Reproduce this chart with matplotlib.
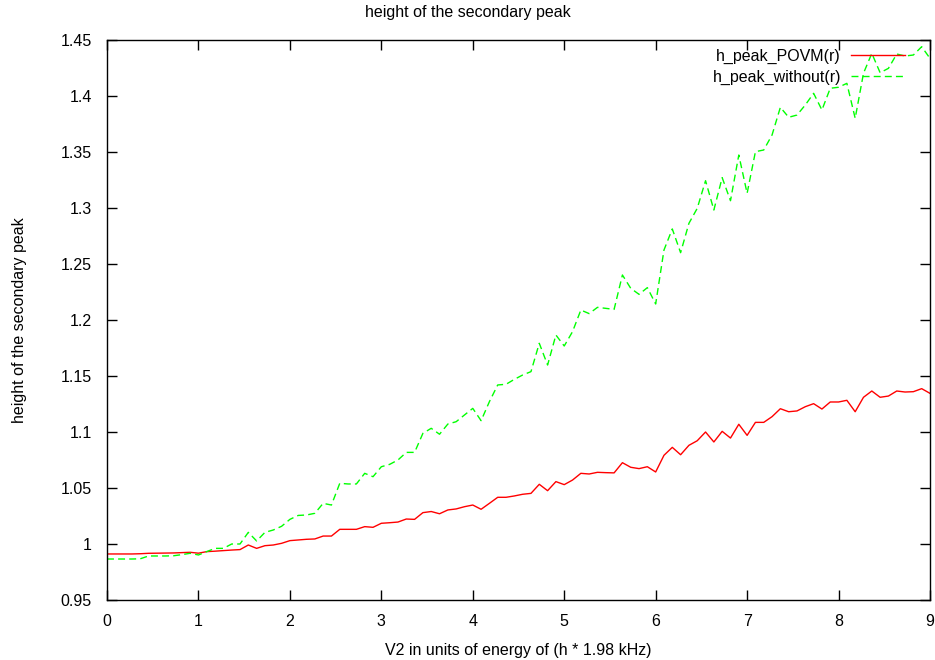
import numpy as np
import matplotlib
matplotlib.use('Agg')
import matplotlib.pyplot as plt
from matplotlib.ticker import FuncFormatter

# V2 grid (100 samples between 0 and 9)
v2 = np.linspace(0, 9, 100)

h_peak_povm = [
    0.9911, 0.9911, 0.9911, 0.9911, 0.9913, 0.9917, 0.9918, 0.9919, 0.9920, 0.9923,
    0.9926, 0.9918, 0.9932, 0.9936, 0.9941, 0.9946, 0.9950, 0.9991, 0.9961, 0.9985,
    0.9991, 1.0006, 1.0030, 1.0036, 1.0042, 1.0045, 1.0071, 1.0071, 1.0131, 1.0131,
    1.0131, 1.0155, 1.0149, 1.0185, 1.0190, 1.0196, 1.0223, 1.0220, 1.0280, 1.0290,
    1.0270, 1.0304, 1.0313, 1.0333, 1.0348, 1.0310, 1.0363, 1.0417, 1.0417, 1.0429,
    1.0444, 1.0452, 1.0533, 1.0476, 1.0557, 1.0530, 1.0571, 1.0631, 1.0625, 1.0640,
    1.0637, 1.0635, 1.0726, 1.0685, 1.0673, 1.0690, 1.0643, 1.0792, 1.0863, 1.0797,
    1.0881, 1.0922, 1.1000, 1.0911, 1.1006, 1.0946, 1.1069, 1.0970, 1.1086, 1.1086,
    1.1137, 1.1208, 1.1181, 1.1188, 1.1226, 1.1253, 1.1205, 1.1268, 1.1268, 1.1283,
    1.1181, 1.1310, 1.1366, 1.1310, 1.1321, 1.1366, 1.1357, 1.1360, 1.1387, 1.1345,
]

h_peak_without = [
    0.9866, 0.9866, 0.9866, 0.9866, 0.9868, 0.9893, 0.9893, 0.9893, 0.9895, 0.9905,
    0.9917, 0.9902, 0.9932, 0.9961, 0.9961, 1.0000, 1.0000, 1.0104, 1.0027, 1.0104,
    1.0125, 1.0158, 1.0220, 1.0255, 1.0259, 1.0274, 1.0363, 1.0348, 1.0542, 1.0536,
    1.0536, 1.0631, 1.0601, 1.0690, 1.0711, 1.0750, 1.0818, 1.0818, 1.0988, 1.1033,
    1.0980, 1.1071, 1.1092, 1.1152, 1.1211, 1.1101, 1.1271, 1.1420, 1.1426, 1.1470,
    1.1509, 1.1539, 1.1792, 1.1598, 1.1866, 1.1768, 1.1896, 1.2089, 1.2057, 1.2113,
    1.2104, 1.2095, 1.2402, 1.2283, 1.2229, 1.2289, 1.2143, 1.2625, 1.2813, 1.2601,
    1.2863, 1.2997, 1.3244, 1.2982, 1.3271, 1.3065, 1.3473, 1.3131, 1.3503, 1.3518,
    1.3652, 1.3899, 1.3810, 1.3830, 1.3920, 1.4024, 1.3875, 1.4069, 1.4078, 1.4113,
    1.3801, 1.4203, 1.4381, 1.4208, 1.4247, 1.4375, 1.4357, 1.4366, 1.4440, 1.4336,
]

x_ticks = list(range(0, 10))
y_ticks = [0.95, 1.0, 1.05, 1.1, 1.15, 1.2, 1.25, 1.3, 1.35, 1.4, 1.45]

plt.rcParams['font.family'] = ['Liberation Sans', 'DejaVu Sans']
FS = 11.5

fig = plt.figure(figsize=(9.35, 6.6), dpi=100)
ax = fig.add_axes([107/935, 60/660, 823/935, 560/660])

ax.plot(v2, h_peak_povm, color='#ff0000', lw=1.0, label='h_peak_POVM(r)')
ax.plot(v2, h_peak_without, color='#00ff00', lw=1.0, dashes=(5, 3), label='h_peak_without(r)')

ax.set_xlim(0, 9)
ax.set_ylim(0.95, 1.45)
ax.set_xticks(x_ticks)
ax.set_yticks(y_ticks)
ax.yaxis.set_major_formatter(FuncFormatter(lambda v, p: f'{v:g}'))
ax.tick_params(direction='in', length=7, width=1, top=True, right=True, labelsize=FS)
ax.tick_params(axis='x', pad=10)
ax.tick_params(axis='y', pad=11)
for s in ax.spines.values():
    s.set_linewidth(1)

# gnuplot centres the title on the whole canvas
fig.text(0.5, 1 - 12/660, 'height of the secondary peak', ha='center', va='center', fontsize=FS)
ax.set_xlabel('V2 in units of energy of (h * 1.98 kHz)', fontsize=FS, labelpad=10)
ax.set_ylabel('height of the secondary peak', fontsize=FS, labelpad=24)

leg = ax.legend(loc='upper right', frameon=False, markerfirst=False, fontsize=FS,
                handlelength=3.4, labelspacing=0.37, borderaxespad=0.0, borderpad=0.0,
                bbox_to_anchor=((905 - 107)/823, 1 - 9/560), handletextpad=0.6)
for t in leg.get_texts():
    t.set_ha('right')
leg._legend_box.align = 'right'

fig.savefig('out.png', dpi=100)
